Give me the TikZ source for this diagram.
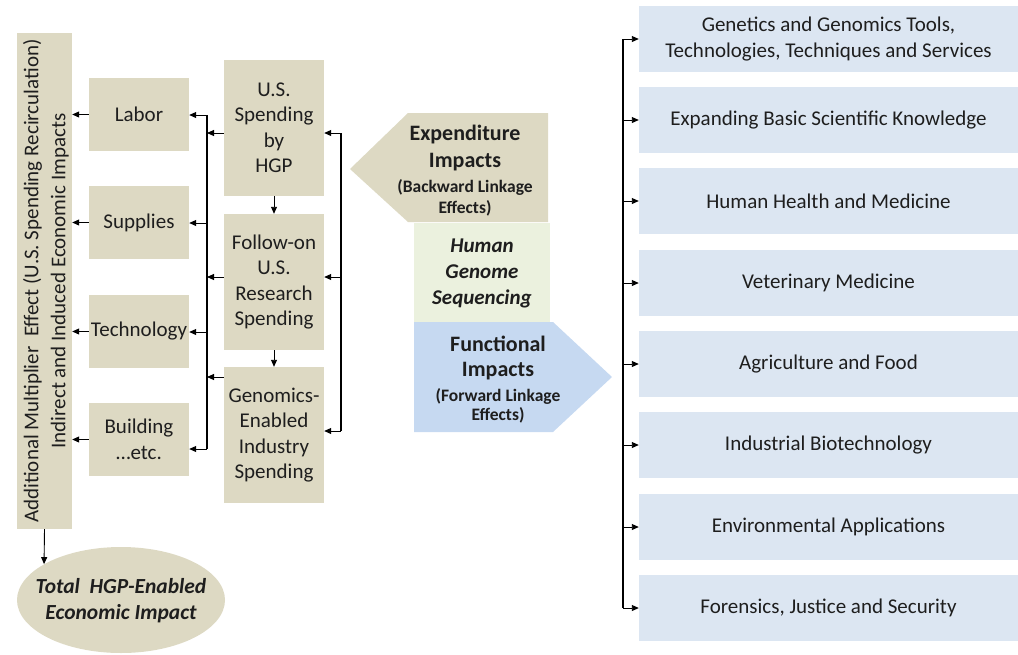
\documentclass[tikz,border=0pt]{standalone}
\usepackage{fontspec}
\setmainfont{Carlito}
\usetikzlibrary{arrows.meta,shapes.geometric}
\definecolor{tan}{HTML}{DDD9C3}
\definecolor{pale}{HTML}{EBF1DE}
\definecolor{lblue}{HTML}{DCE6F2}
\definecolor{mblue}{HTML}{C6D9F1}
\definecolor{ink}{HTML}{1E1E1E}
\tikzset{
  box/.style={fill=tan, inner sep=0pt, align=center, text=ink, font=\fontsize{21}{25.5}\selectfont},
  rbox/.style={fill=lblue, inner sep=0pt, align=center, text=ink, minimum width=379pt, minimum height=66pt, font=\fontsize{21}{26}\selectfont},
  arr/.style={-{Triangle[length=7pt,width=6pt]}, line width=0.9pt, draw=black},
  bus/.style={line width=1.6pt, draw=black},
  lbl/.style={inner sep=0pt, align=center, text=ink},
  big/.style={lbl, font=\fontsize{22}{26}\selectfont\bfseries},
  small/.style={lbl, font=\fontsize{17.5}{21}\selectfont\bfseries}
}
\begin{document}
\begin{tikzpicture}[x=1pt,y=-1pt]
\useasboundingbox (0,0) rectangle (1018,654);

% big left bar
\node[box, minimum width=55pt, minimum height=496pt] (bar) at (44.5,281) {};
\node[lbl, rotate=90, font=\fontsize{21}{27}\selectfont] (bartext) at (46,281)
  {Additional Multiplier~ Effect (U.S. Spending Recirculation)\\Indirect and Induced Economic Impacts};

% ellipse
\node[ellipse, fill=tan, minimum width=208pt, minimum height=106pt, inner sep=0pt] (total) at (121,600) {};
\node[lbl, font=\fontsize{21.5}{26}\selectfont\bfseries\itshape] (totaltext) at (121,601)
  {Total~ HGP-Enabled\\Economic Impact};

% left boxes
\node[box, minimum width=100pt, minimum height=73pt] (labor) at (139,114.5) {Labor};
\node[box, minimum width=100pt, minimum height=73pt] (supplies) at (139,222.5) {Supplies};
\node[box, minimum width=100pt, minimum height=73pt] (tech) at (139,331.5) {Technology};
\node[box, minimum width=100pt, minimum height=73pt] (build) at (139,439.5) {Building\\\ldots etc.};

% middle boxes
\node[box, minimum width=100pt, minimum height=136pt] (us) at (274,128) {U.S.\\Spending\\by\\HGP};
\node[box, minimum width=100pt, minimum height=136pt] (follow) at (274,282) {Follow-on\\U.S.\\Research\\Spending};
\node[box, minimum width=100pt, minimum height=136pt] (gen) at (274,435) {Genomics-\\Enabled\\Industry\\Spending};

% left bus
\coordinate (lb1) at (207,115);
\coordinate (lb2) at (207,223);
\coordinate (lb3) at (207,332);
\coordinate (lb4) at (207,449);
\coordinate (lbu) at (207,133);
\coordinate (lbf) at (207,277);
\coordinate (lbg) at (207,377);
\draw[bus] (lb1) -- (lb4);
\draw[arr] (lb1) -- (lb1 -| labor.east);
\draw[arr] (lb2) -- (lb2 -| supplies.east);
\draw[arr] (lb3) -- (lb3 -| tech.east);
\draw[arr] (lb4) -- (lb4 -| build.east);
\draw[arr] (lbu -| us.west) -- (lbu);
\draw[arr] (lbf -| follow.west) -- (lbf);
\draw[arr] (lbg -| gen.west) -- (lbg);

% left boxes to bar
\draw[arr] (labor.west) -- (labor.west -| bar.east);
\draw[arr] (supplies.west) -- (supplies.west -| bar.east);
\draw[arr] (tech.west) -- (tech.west -| bar.east);
\draw[arr] (build.west) -- (build.west -| bar.east);
\draw[arr] (bar.south) -- (total.155);

% middle down arrows
\draw[arr] (us.south) -- (follow.north);
\draw[arr] (follow.south) -- (gen.north);

% right-of-middle bus
\coordinate (mb1) at (341,133);
\coordinate (mb2) at (341,277);
\coordinate (mb3) at (341,431);
\draw[bus] (mb1) -- (mb3);
\draw[arr] (mb1) -- (mb1 -| us.east);
\draw[arr] (mb2) -- (mb2 -| follow.east);
\draw[arr] (mb3) -- (mb3 -| gen.east);

% pentagons and center box
\fill[tan] (350,169) -- (408,113) -- (548,113) -- (548,222) -- (408,222) -- cycle;
\node[big] (exp1) at (465,135) {Expenditure};
\node[big] (exp2) at (465,162) {Impacts};
\node[small] (exp3) at (465,187) {(Backward Linkage};
\node[small] (exp4) at (465,208) {Effects)};
\node[fill=pale, minimum width=136pt, minimum height=99pt, inner sep=0pt] (hgs) at (482,272.5) {};
\node[lbl, font=\fontsize{21}{26}\selectfont\bfseries\itshape] (hgstext) at (482,273) {Human\\Genome\\Sequencing};
\fill[mblue] (414,322) -- (553,322) -- (612,377) -- (553,432) -- (414,432) -- cycle;
\node[big] (fun1) at (498,344) {Functional};
\node[big] (fun2) at (498,371) {Impacts};
\node[small] (fun3) at (498,396) {(Forward Linkage};
\node[small] (fun4) at (498,415) {Effects)};

% right boxes
\node[rbox] (r1) at (828.5,39) {Genetics and Genomics Tools,\\Technologies, Techniques and Services};
\node[rbox] (r2) at (828.5,120) {Expanding Basic Scientific Knowledge};
\node[rbox] (r3) at (828.5,201) {Human Health and Medicine};
\node[rbox] (r4) at (828.5,283) {Veterinary Medicine};
\node[rbox] (r5) at (828.5,364) {Agriculture and Food};
\node[rbox] (r6) at (828.5,445) {Industrial Biotechnology};
\node[rbox] (r7) at (828.5,527) {Environmental Applications};
\node[rbox] (r8) at (828.5,608) {Forensics, Justice and Security};

\coordinate (rb) at (623,0);
\draw[bus] (r1.west -| rb) -- (r8.west -| rb);
\foreach \n in {r1,r2,r3,r4,r5,r6,r7,r8}{
  \draw[arr] (\n.west -| rb) -- (\n.west);
}
\end{tikzpicture}
\end{document}
